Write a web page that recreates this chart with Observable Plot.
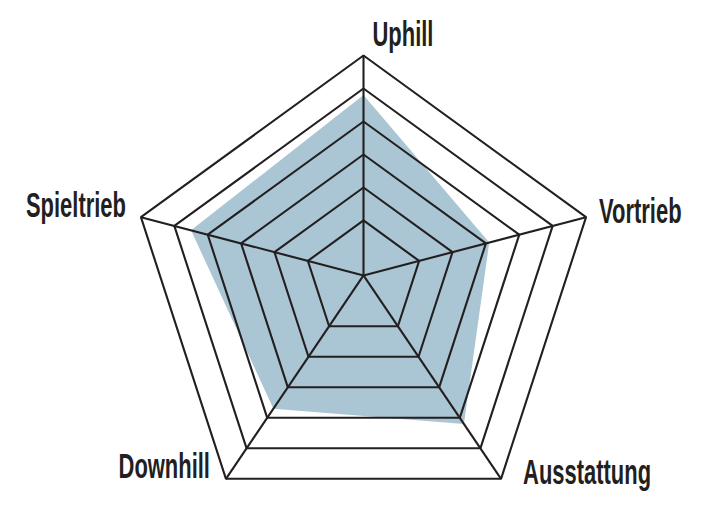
<!DOCTYPE html>
<html><head><meta charset="utf-8">
<script src="https://cdn.jsdelivr.net/npm/d3@7"></script>
<script src="https://cdn.jsdelivr.net/npm/@observablehq/plot@0.6"></script>
<style>body{margin:0;background:#fff;}</style>
</head><body>
<script>
// ---- data ----
const axes = ["Uphill", "Vortrieb", "Ausstattung", "Downhill", "Spieltrieb"];
const values = [4.8, 3.1, 4.2, 3.7, 4.5];
const rings = [1, 2, 3, 4, 5, 6];

// ---- geometry ----
const maxLevel = d3.max(rings);
const hubY = 0.06;                       // spokes meet slightly above pentagon centroid
const frac = v => (0.1 + 0.15 * v) / (0.1 + 0.15 * maxLevel);
const vertex = i => {
  const a = i * 2 * Math.PI / axes.length;
  return [Math.sin(a), Math.cos(a)];
};
const pos = (i, v) => {
  const [vx, vy] = vertex(i), f = frac(v);
  return {x: f * vx, y: hubY + f * (vy - hubY)};
};

const ringPts = rings.flatMap(r => axes.map((a, i) => ({ring: r, ...pos(i, r)})));
const spokes = axes.map((a, i) => {
  const p = pos(i, maxLevel);
  return {x1: 0, y1: hubY, x2: p.x, y2: p.y};
});
const shape = axes.map((a, i) => ({axis: a, ...pos(i, values[i])}));

// label placement (pixel offsets from outer vertex)
const labelLayout = [
  {anchor: "start", dx: 9, dy: -10},
  {anchor: "start", dx: 13, dy: 6},
  {anchor: "start", dx: 22, dy: 5},
  {anchor: "end", dx: -16, dy: -1},
  {anchor: "end", dx: -15, dy: 0}
];

const ink = "#231f20";
const labelMarks = axes.map((a, i) => {
  const p = pos(i, maxLevel);
  const L = labelLayout[i];
  return Plot.text([{...p, label: a}], {
    x: "x", y: "y", text: "label",
    textAnchor: L.anchor, lineAnchor: "bottom",
    dx: L.dx, dy: L.dy,
    fontSize: 36, fontWeight: "bold",
    fontFamily: "'Liberation Sans', Arial, sans-serif",
    fill: ink
  });
});

const chart = Plot.plot({
  width: 712,
  height: 507,
  margin: 0,
  x: {domain: [-363 / 234, 349 / 234], axis: null},
  y: {domain: [-218 / 234, 289 / 234], axis: null},
  marks: [
    Plot.line(shape, {x: "x", y: "y", curve: "linear-closed", fill: "#aac6d4", stroke: "none"}),
    Plot.line(ringPts, {x: "x", y: "y", z: "ring", curve: "linear-closed", stroke: ink, strokeWidth: 2.1, strokeLinejoin: "miter"}),
    Plot.link(spokes, {x1: "x1", y1: "y1", x2: "x2", y2: "y2", stroke: ink, strokeWidth: 2.1}),
    ...labelMarks
  ]
});
document.body.appendChild(chart);

// condense the label glyphs horizontally around their anchor (condensed display face)
chart.querySelectorAll("text").forEach(t => {
  const tr = t.getAttribute("transform");
  if (tr) {
    t.setAttribute("transform", tr + " scale(0.61,1)");
  } else {
    const x = +t.getAttribute("x") || 0;
    t.setAttribute("transform", `translate(${x},0) scale(0.61,1) translate(${-x},0)`);
  }
});
</script>
</body></html>
